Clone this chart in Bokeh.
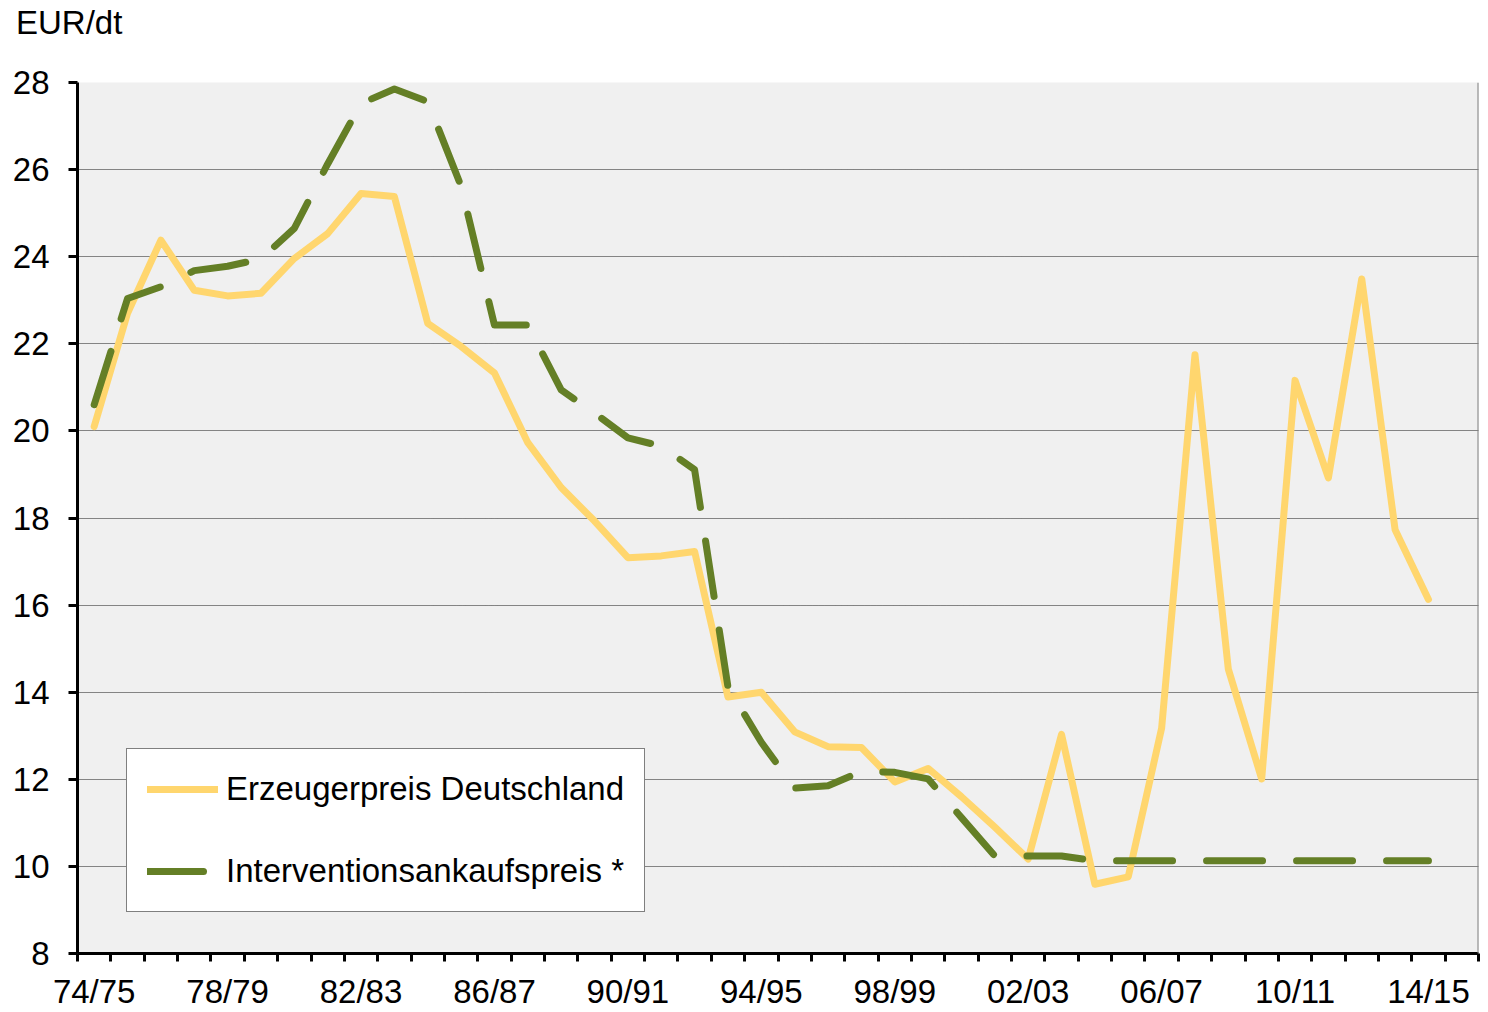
from bokeh.plotting import figure
from bokeh.models import Range1d, FixedTicker, Span, Legend, LegendItem, Div
from bokeh.layouts import column
from bokeh.embed import file_html
from bokeh.resources import INLINE

# ---- data ----
seasons = ["74/75", "75/76", "76/77", "77/78", "78/79", "79/80", "80/81", "81/82",
           "82/83", "83/84", "84/85", "85/86", "86/87", "87/88", "88/89", "89/90",
           "90/91", "91/92", "92/93", "93/94", "94/95", "95/96", "96/97", "97/98",
           "98/99", "99/00", "00/01", "01/02", "02/03", "03/04", "04/05", "05/06",
           "06/07", "07/08", "08/09", "09/10", "10/11", "11/12", "12/13", "13/14",
           "14/15"]

erzeugerpreis = [20.1, 22.7, 24.38, 23.23, 23.1, 23.16, 23.96, 24.53, 25.45, 25.38,
                 22.47, 21.94, 21.33, 19.73, 18.7, 17.93, 17.09, 17.13, 17.23, 13.89,
                 14.0, 13.09, 12.75, 12.73, 11.94, 12.25, 11.6, 10.9, 10.17, 13.03,
                 9.59, 9.76, 13.17, 21.75, 14.53, 12.01, 21.16, 18.92, 23.49, 17.73,
                 16.13]

intervention = [20.6, 23.04, 23.31, 23.68, 23.78, 23.95, 24.65, 26.13, 27.52, 27.85,
                27.56, 25.62, 22.43, 22.43, 20.94, 20.41, 19.84, 19.65, 19.11, 14.12,
                12.85, 11.8, 11.85, 12.18, 12.16, 12.01, 11.12, 10.24, 10.24, 10.24,
                10.13, 10.13, 10.13, 10.13, 10.13, 10.13, 10.13, 10.13, 10.13, 10.13,
                10.13]

y_ticks = [8, 10, 12, 14, 16, 18, 20, 22, 24, 26, 28]
label_step = 4
series_names = ["Erzeugerpreis Deutschland", "Interventionsankaufspreis *"]
unit_label = "EUR/dt"

# ---- styling ----
FONT = "Liberation Sans"
FS = "33px"
YELLOW = "#FFD66E"
GREEN = "#647F26"
n = len(seasons)
x = list(range(n))
HEAD = 40  # height of the header strip holding the unit label

header = Div(
    text=('<div style="position:relative; left:16px; top:4px; white-space:nowrap; '
          'font-family:\'Liberation Sans\', Arial, sans-serif; font-size:33px; '
          'line-height:38px; color:black;">' + unit_label + '</div>'),
    width=1480, height=HEAD, margin=0)

plot = figure(width=1480, height=1012 - HEAD,
              x_range=Range1d(-0.5, n + 0.5), y_range=Range1d(y_ticks[0], y_ticks[-1]),
              output_backend="svg", toolbar_location=None, margin=0,
              min_border_left=77, min_border_right=2, min_border_top=82 - HEAD,
              min_border_bottom=57)

plot.background_fill_color = "#F0F0F0"
plot.border_fill_color = "white"
plot.outline_line_color = None

# grid
plot.xgrid.visible = False
plot.ygrid.grid_line_color = "black"
plot.ygrid.grid_line_dash = "1 1"
plot.ygrid.grid_line_width = 1
plot.ygrid.grid_line_alpha = 0.9

# y axis
plot.yaxis.ticker = FixedTicker(ticks=y_ticks)
plot.yaxis.axis_line_width = 3
plot.yaxis.axis_line_color = "black"
plot.yaxis.major_tick_line_width = 3
plot.yaxis.major_tick_out = 9
plot.yaxis.major_tick_in = 0
plot.yaxis.minor_tick_line_color = None
plot.yaxis.major_label_text_font = FONT
plot.yaxis.major_label_text_font_size = FS
plot.yaxis.major_label_text_color = "black"
plot.yaxis.major_label_standoff = 19

# x axis
label_pos = list(range(0, n, label_step))
boundaries = [i - 0.5 for i in range(n + 2)]
plot.xaxis.ticker = FixedTicker(ticks=label_pos, minor_ticks=boundaries)
plot.xaxis.major_label_overrides = {i: seasons[i] for i in label_pos}
plot.xaxis.axis_line_width = 3
plot.xaxis.axis_line_color = "black"
plot.xaxis.major_tick_line_color = None
plot.xaxis.major_tick_out = 8
plot.xaxis.major_tick_in = 0
plot.xaxis.minor_tick_line_color = "black"
plot.xaxis.minor_tick_line_width = 3
plot.xaxis.minor_tick_out = 8
plot.xaxis.minor_tick_in = 0
plot.xaxis.major_label_text_font = FONT
plot.xaxis.major_label_text_font_size = FS
plot.xaxis.major_label_text_color = "black"
plot.xaxis.major_label_standoff = 11

# right border of plot area
plot.add_layout(Span(location=n + 0.5, dimension="height", line_color="#7F7F7F", line_width=2))

# lines
r1 = plot.line(x, erzeugerpreis, line_color=YELLOW, line_width=7,
               line_join="round", line_cap="round")
r2 = plot.line(x, intervention, line_color=GREEN, line_width=7, line_dash="56 34",
               line_join="round", line_cap="round")

legend = Legend(items=[LegendItem(label=series_names[0], renderers=[r1]),
                       LegendItem(label=series_names[1], renderers=[r2])],
                location=(49, 41), orientation="vertical",
                padding=20, margin=0, glyph_width=71, glyph_height=40,
                label_height=40, label_standoff=8, spacing=42,
                label_text_font=FONT, label_text_font_size=FS,
                label_text_color="black",
                border_line_color="black", border_line_width=1.5,
                background_fill_color="white", background_fill_alpha=1.0)
plot.add_layout(legend)

p = column(header, plot, spacing=0)

open("out.html", "w").write(file_html(p, INLINE))
